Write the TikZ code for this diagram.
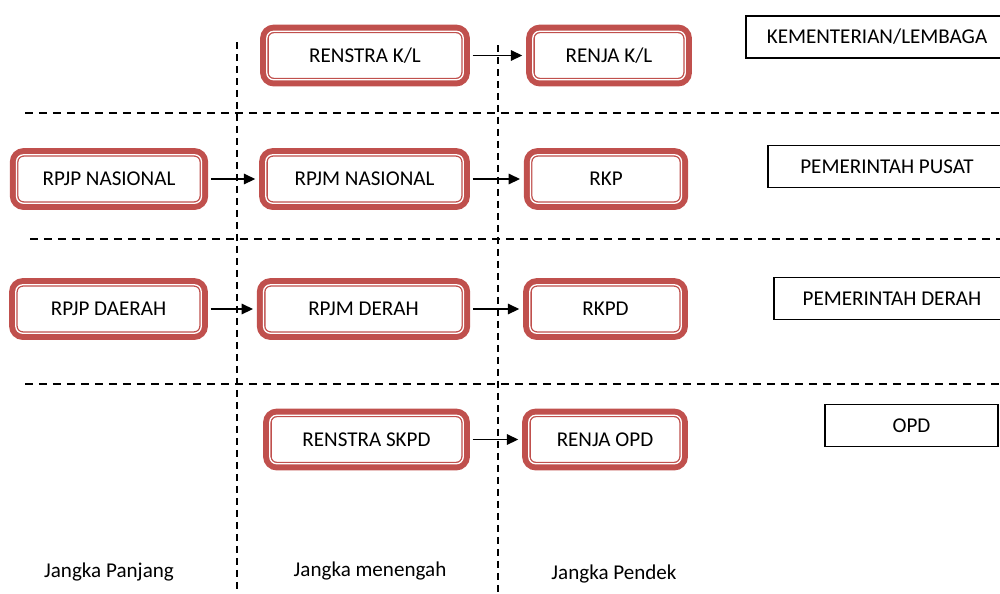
\documentclass[tikz,border=0pt]{standalone}
\usepackage{fontspec}
\setmainfont{Carlito}
\usetikzlibrary{arrows.meta, positioning}
\definecolor{planred}{RGB}{192, 80, 77}

\begin{document}
\begin{tikzpicture}[
    x=0.02cm, y=-0.02cm,
    font=\fontsize{12}{14}\selectfont,
    plan/.style={fill=white, draw=planred, line width=2.25pt, rounded corners=4pt, outer sep=0pt, minimum height=0.97cm, align=center,
        preaction={draw=planred, line width=7.5pt, rounded corners=4pt},
        postaction={draw=white, line width=0.75pt, rounded corners=4pt}},
    tier/.style={draw, line width=0.75pt, minimum height=0.84cm, align=center},
    arrow/.style={-{Triangle[length=6.5pt, width=6pt]}, line width=0.8pt, shorten <=0.19cm, shorten >=0.21cm},
    divider/.style={dash pattern=on 0.16cm off 0.12cm, line width=0.8pt},
    term/.style={inner sep=1pt}
]
    \useasboundingbox (0,0) rectangle (1000,593);

    % Separators
    \draw[divider] (25,113) -- (1000,113);
    \draw[divider] (30,239) -- (1000,239);
    \draw[divider] (25,384) -- (1000,384);
    \draw[divider, line width=0.7pt, dash pattern=on 0.14cm off 0.1cm] (237,42) -- (237,593);
    \draw[divider, line width=0.7pt, dash pattern=on 0.14cm off 0.1cm] (498,45) -- (498,593);

    % Planning documents
    \node[plan, minimum width=3.93cm] (renstrakl) at (365,55.5) {RENSTRA K/L};
    \node[plan, minimum width=3.05cm] (renjakl) at (609,55.5) {RENJA K/L};
    \node[plan, minimum width=3.7cm] (rpjpn) at (109,179) {RPJP NASIONAL};
    \node[plan, minimum width=3.95cm] (rpjmn) at (364.5,179) {RPJM NASIONAL};
    \node[plan, minimum width=3.02cm] (rkp) at (606,179) {RKP};
    \node[plan, minimum width=3.71cm] (rpjpd) at (108.5,309) {RPJP DAERAH};
    \node[plan, minimum width=4cm] (rpjmd) at (363.5,309) {RPJM DERAH};
    \node[plan, minimum width=3.03cm] (rkpd) at (605.5,309) {RKPD};
    \node[plan, minimum width=3.87cm] (renstraskpd) at (366.5,439.5) {RENSTRA SKPD};
    \node[plan, minimum width=3.05cm] (renjaopd) at (605,439.5) {RENJA OPD};

    % Levels
    \node[tier, minimum width=5.24cm] (kl) at (877,37) {KEMENTERIAN/LEMBAGA};
    \node[tier, minimum width=4.76cm] (pusat) at (887,166.5) {PEMERINTAH PUSAT};
    \node[tier, minimum width=4.72cm] (daerah) at (892,298.5) {PEMERINTAH DERAH};
    \node[tier, minimum width=3.46cm] (opd) at (911.5,425.5) {OPD};

    % Time frames
    \node[term] (panjang) at (109,572) {Jangka Panjang};
    \node[term] (menengah) at (370,571) {Jangka menengah};
    \node[term] (pendek) at (614,574) {Jangka Pendek};

    % Flows
    \draw[arrow] (renstrakl) -- (renjakl);
    \draw[arrow] (rpjpn) -- (rpjmn);
    \draw[arrow] (rpjmn) -- (rkp);
    \draw[arrow] (rpjpd) -- (rpjmd);
    \draw[arrow] (rpjmd) -- (rkpd);
    \draw[arrow] (renstraskpd) -- (renjaopd);

\end{tikzpicture}
\end{document}
